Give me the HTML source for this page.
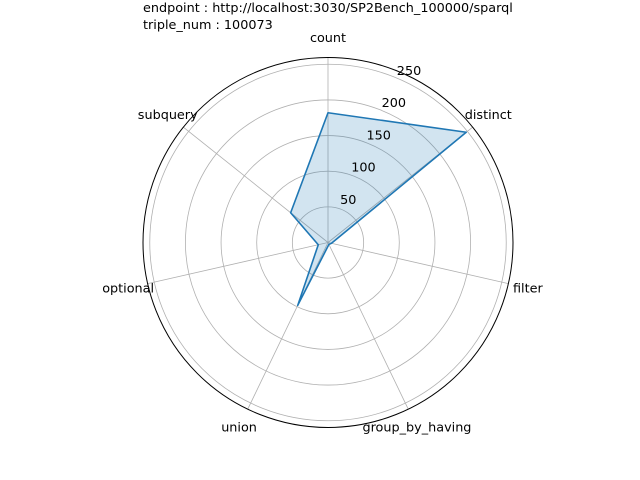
<!DOCTYPE html>
<html><head><meta charset="utf-8"><style>
body{margin:0;background:#fff}
svg{display:block;font-family:"DejaVu Sans","Liberation Sans",sans-serif;font-size:12.8px}
</style></head><body>
<svg id="c" width="640" height="480">
<text x="143" y="12">endpoint : http://localhost:3030/SP2Bench_100000/sparql</text>
<text x="143" y="29">triple_num : 100073</text>
</svg>
<script>
const categories=["count","distinct","filter","group_by_having","union","optional","subquery"];
const values=[182,248,5,3,98,14,67];
const ticks=[50,100,150,200,250];
const svg=document.getElementById('c');
const NS='http://www.w3.org/2000/svg';
const cx=328,cy=242.5,R=185,rmax=259.5;
function r(v){return v/rmax*R;}
function ang(i){return Math.PI/2 - i*2*Math.PI/categories.length;}
function pt(i,v){const a=ang(i);return [cx+r(v)*Math.cos(a),cy-r(v)*Math.sin(a)];}
function mk(t,a){const e=document.createElementNS(NS,t);for(const k in a)e.setAttribute(k,a[k]);svg.appendChild(e);return e;}
ticks.forEach(t=>{const e=mk('circle',{cx:cx,cy:cy,r:r(t),fill:'none',stroke:'#b0b0b0','stroke-width':0.8});

});
categories.forEach((c,i)=>{const [x,y]=pt(i,rmax);const e=mk('line',{x1:cx,y1:cy,x2:x,y2:y,stroke:'#b0b0b0','stroke-width':0.8});


const a=ang(i);const lx=cx+205*Math.cos(a),ly=cy-205*Math.sin(a);
const tx=mk('text',{x:lx,y:ly+4.5,'text-anchor':'middle'});
tx.textContent=c;

});
const oc=mk('circle',{cx:cx,cy:cy,r:R,fill:'none',stroke:'#000','stroke-width':1});


const pts=values.map((v,i)=>pt(i,v).join(',')).join(' ');
const poly=mk('polygon',{points:pts,fill:'#1f77b4','fill-opacity':0.2,stroke:'#1f77b4','stroke-width':1.6,'stroke-linejoin':'round'});


ticks.forEach(t=>{const a=Math.PI/2-0.44;const d=r(t)+12;
const e=mk('text',{x:cx+d*Math.cos(a),y:cy-d*Math.sin(a)+4.5,'text-anchor':'middle'});
e.textContent=t;

});
</script>
</body></html>
